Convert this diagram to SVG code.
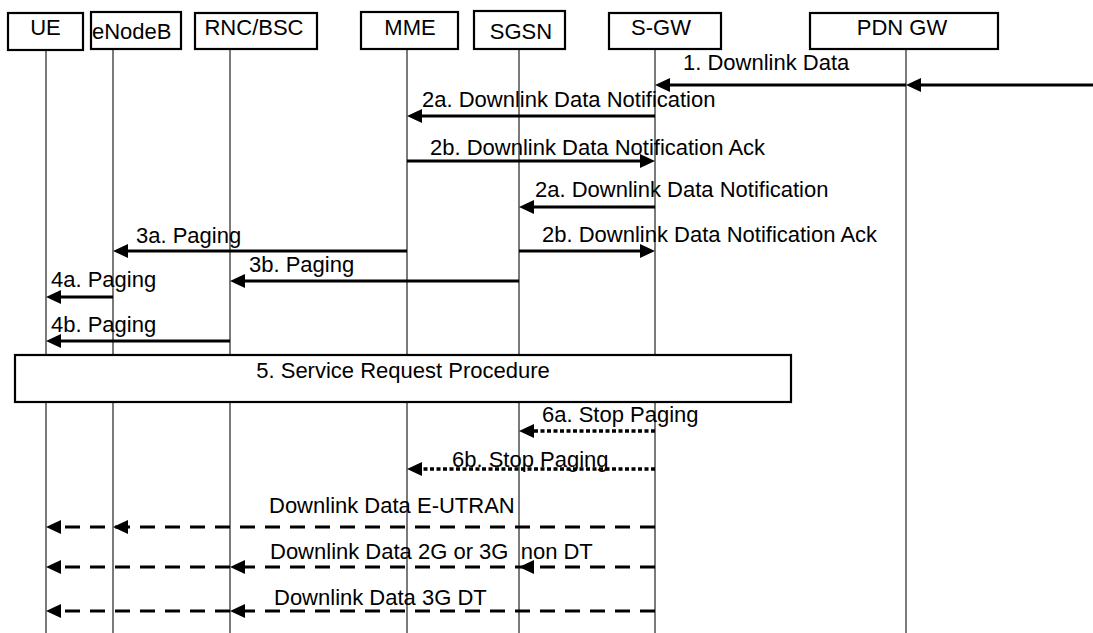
<svg xmlns="http://www.w3.org/2000/svg" width="1093" height="633" viewBox="0 0 1093 633">
<style>
text{font-family:"Liberation Sans",Arial,sans-serif;font-size:22px;fill:#000}
.box{fill:#fff;stroke:#000;stroke-width:2.2}
.life{stroke:#222;stroke-width:1.2}
.msg{stroke:#000;stroke-width:3;fill:none}
.dot{stroke:#000;stroke-width:3.5;fill:none;stroke-dasharray:4 2.5}
.dash{stroke:#000;stroke-width:3;fill:none;stroke-dasharray:15 10}
.ah{fill:#000}
</style>
<defs>
<path id="hl" d="M0,0 L15,-7 L15,7 Z"/>
<path id="hr" d="M0,0 L-15,-7 L-15,7 Z"/>
</defs>
<g id="lifelines">
<line class="life" x1="46" y1="50" x2="46" y2="633"/>
<line class="life" x1="113" y1="49" x2="113" y2="633"/>
<line class="life" x1="230" y1="49" x2="230" y2="633"/>
<line class="life" x1="407" y1="49" x2="407" y2="633"/>
<line class="life" x1="519" y1="49" x2="519" y2="633"/>
<line class="life" x1="655" y1="49" x2="655" y2="633"/>
<line class="life" x1="906" y1="49" x2="906" y2="633"/>
</g>
<g id="node-ue"><rect class="box" x="8" y="13" width="75" height="37"/><text x="45.5" y="35" text-anchor="middle">UE</text></g>
<g id="node-enodeb"><rect class="box" x="91" y="12" width="90" height="37"/><text x="92" y="39">eNodeB</text></g>
<g id="node-rnc"><rect class="box" x="195" y="13" width="122" height="36"/><text x="254" y="35" text-anchor="middle">RNC/BSC</text></g>
<g id="node-mme"><rect class="box" x="361" y="12" width="97" height="37"/><text x="410" y="35" text-anchor="middle">MME</text></g>
<g id="node-sgsn"><rect class="box" x="474" y="11" width="91" height="38"/><text x="521" y="39" text-anchor="middle">SGSN</text></g>
<g id="node-sgw"><rect class="box" x="609" y="13" width="112" height="36"/><text x="661" y="35" text-anchor="middle">S-GW</text></g>
<g id="node-pdngw"><rect class="box" x="810" y="13" width="188" height="36"/><text x="902" y="35" text-anchor="middle">PDN GW</text></g>
<g id="node-service"><rect class="box" x="15" y="355" width="776" height="47"/><text x="403" y="378" text-anchor="middle">5. Service Request Procedure</text></g>
<g id="connectors">
<line class="msg" x1="1093" y1="85" x2="918" y2="85"/><use href="#hl" class="ah" x="906" y="85"/>
<line class="msg" x1="906" y1="85" x2="667" y2="85"/><use href="#hl" class="ah" x="655" y="85"/>
<text x="683" y="70">1. Downlink Data</text>
<line class="msg" x1="655" y1="116" x2="419" y2="116"/><use href="#hl" class="ah" x="407" y="116"/>
<text x="422" y="107">2a. Downlink Data Notification</text>
<line class="msg" x1="407" y1="161" x2="643" y2="161"/><use href="#hr" class="ah" x="655" y="161"/>
<text x="430" y="155">2b. Downlink Data Notification Ack</text>
<line class="msg" x1="655" y1="207" x2="531" y2="207"/><use href="#hl" class="ah" x="519" y="207"/>
<text x="535" y="197">2a. Downlink Data Notification</text>
<line class="msg" x1="519" y1="251" x2="643" y2="251"/><use href="#hr" class="ah" x="655" y="251"/>
<text x="542" y="242">2b. Downlink Data Notification Ack</text>
<line class="msg" x1="407" y1="251" x2="125" y2="251"/><use href="#hl" class="ah" x="113" y="251"/>
<text x="136" y="243">3a. Paging</text>
<line class="msg" x1="519" y1="281" x2="242" y2="281"/><use href="#hl" class="ah" x="230" y="281"/>
<text x="249" y="272">3b. Paging</text>
<line class="msg" x1="113" y1="297" x2="58" y2="297"/><use href="#hl" class="ah" x="46" y="297"/>
<text x="51" y="287">4a. Paging</text>
<line class="msg" x1="230" y1="341" x2="58" y2="341"/><use href="#hl" class="ah" x="46" y="341"/>
<text x="51" y="332">4b. Paging</text>
<line class="dot" x1="655" y1="431" x2="531" y2="431"/><use href="#hl" class="ah" x="519" y="431"/>
<text x="542" y="422">6a. Stop Paging</text>
<line class="dot" x1="655" y1="469" x2="419" y2="469"/><use href="#hl" class="ah" x="407" y="469"/>
<text x="452" y="467">6b. Stop Paging</text>
<line class="dash" x1="655" y1="527" x2="58" y2="527"/><use href="#hl" class="ah" x="113" y="527"/><use href="#hl" class="ah" x="46" y="527"/>
<text x="269" y="513">Downlink Data E-UTRAN</text>
<line class="dash" x1="655" y1="567" x2="58" y2="567"/><use href="#hl" class="ah" x="519" y="567"/><use href="#hl" class="ah" x="230" y="567"/><use href="#hl" class="ah" x="46" y="567"/>
<text x="270" y="559" xml:space="preserve">Downlink Data 2G or 3G  non DT</text>
<line class="dash" x1="655" y1="611" x2="58" y2="611"/><use href="#hl" class="ah" x="230" y="611"/><use href="#hl" class="ah" x="46" y="611"/>
<text x="274" y="605">Downlink Data 3G DT</text>
</g>
</svg>
